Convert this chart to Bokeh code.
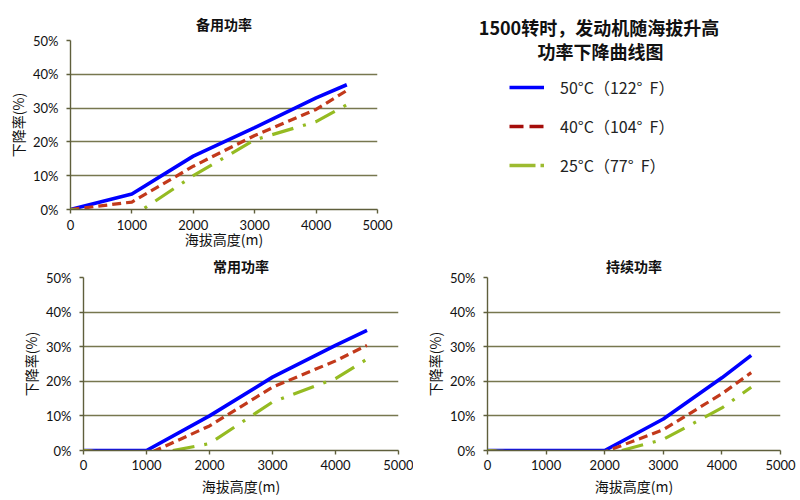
from bokeh.plotting import figure
from bokeh.layouts import column, row
from bokeh.models import Range1d, FixedTicker, Legend, LegendItem, Label, Title, ColumnDataSource
from bokeh.embed import file_html
from bokeh.resources import INLINE

# ---------------- data ----------------
altitude = [0, 1000, 2000, 3000, 4000, 4500]

standby_50 = [0, 4.6, 15.8, 24.2, 33.0, 36.9]
standby_40 = [0, 2.2, 12.8, 21.9, 29.6, 35.2]
standby_25 = [0, -2.1, 10.0, 20.6, 26.0, 31.0]

prime_50 = [0, 0, 10.0, 21.2, 30.4, 34.7]
prime_40 = [0, -1.2, 7.1, 18.3, 25.9, 30.4]
prime_25 = [0, -1.5, 2.0, 14.0, 20.8, 26.4]

cont_50 = [0, 0, 0, 9.1, 21.0, 27.5]
cont_40 = [0, -1.0, -0.4, 6.0, 16.4, 22.5]
cont_25 = [0, -1.0, -1.3, 3.2, 12.3, 18.3]

x_ticks = [0, 1000, 2000, 3000, 4000, 5000]
y_ticks = [0, 10, 20, 30, 40, 50]
y_tick_labels = ["0%", "10%", "20%", "30%", "40%", "50%"]

chart_titles = ["备用功率", "常用功率", "持续功率"]
main_title_lines = ["1500转时，发动机随海拔升高", "功率下降曲线图"]
series_names = ["50°C（122°  F）", "40°C（104°  F）", "25°C（77°  F）"]
x_label = "海拔高度(m)"
y_label = "下降率(%)"

# ---------------- styles ----------------
CJK = "Noto Sans CJK SC"
TICKF = "Lato"
GRID = "#77774f"
AXIS = "#5f5f3c"
C50, C40, C25 = "#0000ff", "#c2391b", "#95bb22"
L40, L25 = "#a50d0a", "#9dbb30"


def make_chart(title, s50, s40, s25, w, h, bl, br, bt, bb, title_standoff,
               lab_standoff, axlab_standoff):
    p = figure(width=w, height=h, output_backend="svg", toolbar_location=None,
               x_range=Range1d(0, 5000), y_range=Range1d(0, 50),
               min_border_left=bl, min_border_right=br, min_border_top=bt, min_border_bottom=bb)
    p.title.text = title
    p.title.align = "center"
    p.title.text_font = CJK
    p.title.text_font_size = "14px"
    p.title.text_font_style = "bold"
    p.title.text_color = "#111111"
    p.title.standoff = title_standoff
    p.outline_line_color = None
    p.background_fill_color = "white"
    p.border_fill_color = "white"
    p.xgrid.visible = False
    p.ygrid.ticker = FixedTicker(ticks=y_ticks)
    p.ygrid.grid_line_color = GRID
    p.ygrid.grid_line_width = 1.4
    p.xaxis.ticker = FixedTicker(ticks=x_ticks)
    p.yaxis.ticker = FixedTicker(ticks=y_ticks)
    p.yaxis.major_label_overrides = {t: l for t, l in zip(y_ticks, y_tick_labels)}
    for ax in (p.xaxis[0], p.yaxis[0]):
        ax.axis_line_color = AXIS
        ax.axis_line_width = 1.4
        ax.major_tick_line_color = AXIS
        ax.major_tick_line_width = 1.4
        ax.major_tick_in = 0
        ax.major_tick_out = 4
        ax.minor_tick_line_color = None
        ax.major_label_text_font = TICKF
        ax.major_label_text_font_size = "13px"
        ax.major_label_text_color = "#111111"
        ax.axis_label_text_font = CJK
        ax.axis_label_text_font_size = "14px"
        ax.axis_label_text_font_style = "normal"
        ax.axis_label_text_color = "#111111"
    p.xaxis.axis_label = x_label
    p.yaxis.axis_label = y_label
    p.xaxis.major_label_standoff = lab_standoff
    p.yaxis.major_label_standoff = 8
    p.xaxis.axis_label_standoff = axlab_standoff
    p.yaxis.axis_label_standoff = 2
    src = ColumnDataSource(dict(x=altitude, a=s50, b=s40, c=s25))
    p.line("x", "a", source=src, line_color=C50, line_width=3.6)
    p.line("x", "b", source=src, line_color=C40, line_width=3.2, line_dash="9 5")
    p.line("x", "c", source=src, line_color=C25, line_width=3.2, line_dash="22 10 3 10")
    return p


# ---- top row ----
p1 = make_chart(chart_titles[0], standby_50, standby_40, standby_25,
                w=397, h=251, bl=70, br=20, bt=40, bb=42, title_standoff=14,
                lab_standoff=6, axlab_standoff=-4)

# legend / main title panel (1 data unit = 1 pixel of its frame)
pL = figure(width=403, height=251, output_backend="svg", toolbar_location=None,
            x_range=Range1d(0, 403), y_range=Range1d(0, 169),
            min_border_left=0, min_border_right=0, min_border_top=40, min_border_bottom=42)
pL.title.visible = False
pL.axis.visible = False
pL.grid.visible = False
pL.outline_line_color = None
pL.add_layout(Title(text=main_title_lines[0], align="center", text_font=CJK,
                    text_font_size="18px", text_font_style="bold", text_color="#111111",
                    standoff=1), "above")
pL.add_layout(Label(x=203, y=159, text=main_title_lines[1], text_align="center",
                    text_baseline="middle", text_font=CJK, text_font_size="18px",
                    text_font_style="bold", text_color="#111111"))
nan_src = ColumnDataSource(dict(x=[float("nan")], y=[float("nan")]))
r1 = pL.line("x", "y", source=nan_src, line_color=C50, line_width=3.5)
r2 = pL.line("x", "y", source=nan_src, line_color=L40, line_width=3.5, line_dash="14 6")
r3 = pL.line("x", "y", source=nan_src, line_color=L25, line_width=3.5, line_dash="26 5 5 5")
legend = Legend(items=[LegendItem(label=series_names[0], renderers=[r1]),
                       LegendItem(label=series_names[1], renderers=[r2]),
                       LegendItem(label=series_names[2], renderers=[r3])],
                location=(112, 32), orientation="vertical",
                glyph_width=35, glyph_height=20, label_height=20, spacing=15,
                label_standoff=16, padding=0, margin=0,
                border_line_color=None, background_fill_alpha=0,
                label_text_font=CJK, label_text_font_size="16px", label_text_color="#222222")
pL.add_layout(legend)

# ---- bottom row ----
p2 = make_chart(chart_titles[1], prime_50, prime_40, prime_25,
                w=413, h=249, bl=83, br=15, bt=26, bb=50, title_standoff=4,
                lab_standoff=5, axlab_standoff=3)
p3 = make_chart(chart_titles[2], cont_50, cont_40, cont_25,
                w=387, h=249, bl=74, br=20, bt=26, bb=50, title_standoff=4,
                lab_standoff=5, axlab_standoff=3)

layout = column(row(p1, pL, spacing=0), row(p2, p3, spacing=0), spacing=0)
open("out.html", "w").write(file_html(layout, INLINE))
